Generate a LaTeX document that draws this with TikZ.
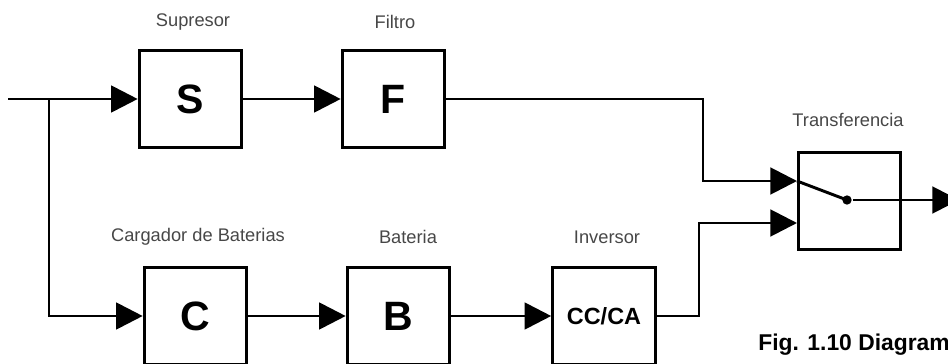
\documentclass[tikz,border=0pt]{standalone}
\usepackage{fontspec}
\setmainfont{Liberation Sans}
\usetikzlibrary{arrows.meta}

\begin{document}
\begin{tikzpicture}[x=0.03cm,y=-0.03cm, line width=2.5pt,
  blk/.style={draw,minimum width=3.08cm,minimum height=2.9cm,font=\fontsize{35}{35}\selectfont\bfseries},
  lbl/.style={text=black!72,font=\fontsize{15.6}{16}\selectfont},
  arr/.style={-{Triangle[length=0.8cm,width=0.8cm]}}]
\useasboundingbox (0,0) rectangle (948,364);

\node[blk] (s) at (190.5,99) {S};
\node[lbl] (ls) at (193,22) {Supresor};
\node[blk] (f) at (393.5,99) {F};
\node[lbl] (lf) at (395,22) {Filtro};

\node[blk] (c) at (195.5,316) {C};
\node[lbl] (lc) at (198,237) {Cargador de Baterias};
\node[blk] (b) at (398.5,316) {B};
\node[lbl] (lb) at (408,237) {Bateria};
\node[blk,font=\fontsize{20}{20}\selectfont\bfseries] (inv) at (604,316) {CC/CA};
\node[lbl] (li) at (607,237) {Inversor};

\node[blk] (t) at (849.5,201) {};
\node[lbl] (lt) at (848,120) {Transferencia};
\node[circle,fill,inner sep=0pt,minimum size=0.28cm] (d) at (847,200) {};

\coordinate (in) at (8,99);
\coordinate (j) at (49,99);
\coordinate (t1) at (797,181);
\coordinate (t2) at (797,223);
\coordinate (out) at (959,200);

\draw (in) -- (j);
\draw[arr] (j) -- (s);
\draw[arr] (s) -- (f);
\draw[arr] (f.east) -- (703,99) |- (t1);
\draw[arr] (j) |- (c);
\draw[arr] (c) -- (b);
\draw[arr] (b) -- (inv);
\draw[arr] (inv.east) -- (699,316) |- (t2);
\draw (t1) -- (d.center);
\draw[arr] (d) -- (out);

\node[anchor=base west,font=\fontsize{19.5}{20}\selectfont\bfseries] (cap) at (753,350) {Fig. 1.10 Diagram};
\end{tikzpicture}
\end{document}
